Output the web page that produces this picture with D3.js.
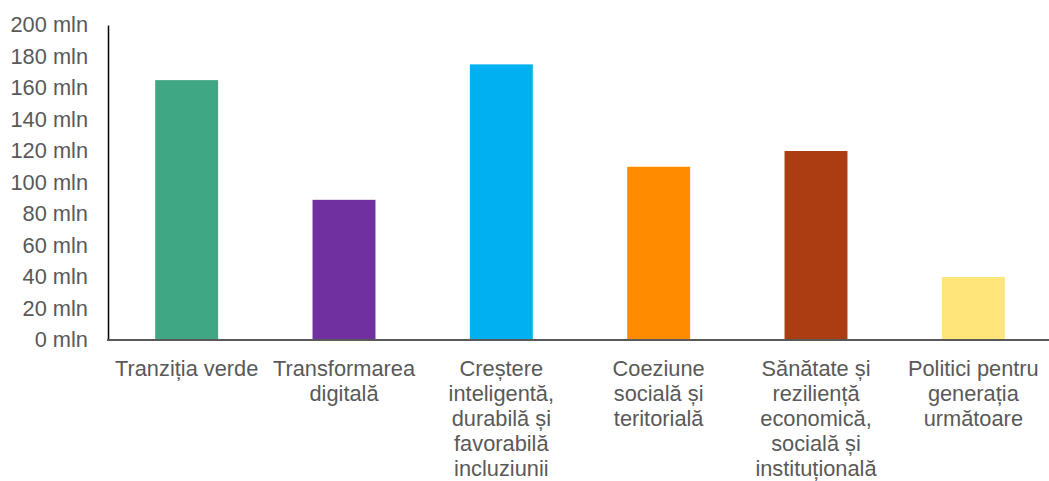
<!DOCTYPE html>
<html>
<head>
<meta charset="utf-8">
<script src="https://cdn.jsdelivr.net/npm/d3@7"></script>
<style>
  html, body { margin: 0; padding: 0; background: #fff; }
  svg { display: block; }
  text { font-family: "Liberation Sans", Arial, sans-serif; fill: #595959; }
</style>
</head>
<body>
<svg id="chart" width="1049" height="481"></svg>
<script>
const categories = [
  ["Tranziția verde"],
  ["Transformarea", "digitală"],
  ["Creștere", "inteligentă,", "durabilă și", "favorabilă", "incluziunii"],
  ["Coeziune", "socială și", "teritorială"],
  ["Sănătate și", "reziliență", "economică,", "socială și", "instituțională"],
  ["Politici pentru", "generația", "următoare"]
];
const values = [165, 89, 175, 110, 120, 40];
const colors = ["#3FA783", "#7030A0", "#00B0F0", "#FF8C00", "#AA3D12", "#FFE57A"];
const yTicks = [0, 20, 40, 60, 80, 100, 120, 140, 160, 180, 200];
const tickSuffix = " mln";

const svg = d3.select("#chart");
const mLeft = 108, mRight = 1052, mTop = 25, mBottom = 340;
const fontSize = 21.8;

const x = d3.scaleBand()
  .domain(d3.range(categories.length))
  .range([mLeft, mRight])
  .paddingInner(0.6)
  .paddingOuter(0.3);

const y = d3.scaleLinear().domain([0, 200]).range([mBottom, mTop]);

// bars
svg.append("g").selectAll("rect")
  .data(values)
  .join("rect")
  .attr("x", (d, i) => x(i))
  .attr("width", x.bandwidth())
  .attr("y", d => y(d))
  .attr("height", d => y(0) - y(d))
  .attr("fill", (d, i) => colors[i]);

// y axis
const yAxis = d3.axisLeft(y)
  .tickValues(yTicks)
  .tickSize(0)
  .tickPadding(20)
  .tickFormat(d => d + tickSuffix);
const gy = svg.append("g").attr("transform", `translate(${mLeft},0)`).call(yAxis);
gy.select(".domain").attr("stroke", "#000").attr("stroke-width", 1.5);
gy.selectAll(".tick text")
  .attr("font-size", fontSize)
  .attr("fill", "#595959")
  .style("font-family", '"Liberation Sans", Arial, sans-serif');

// baseline
svg.append("line")
  .attr("x1", mLeft - 1).attr("x2", 1049)
  .attr("y1", y(0)).attr("y2", y(0))
  .attr("stroke", "#595959").attr("stroke-width", 2);

// x labels
const gx = svg.append("g");
categories.forEach((lines, i) => {
  const t = gx.append("text")
    .attr("text-anchor", "middle")
    .attr("font-size", fontSize)
    .attr("x", x(i) + x.bandwidth() / 2)
    .attr("y", 376);
  lines.forEach((ln, j) => {
    t.append("tspan")
      .attr("x", x(i) + x.bandwidth() / 2)
      .attr("dy", j === 0 ? 0 : 25)
      .text(ln);
  });
});
</script>
</body>
</html>
